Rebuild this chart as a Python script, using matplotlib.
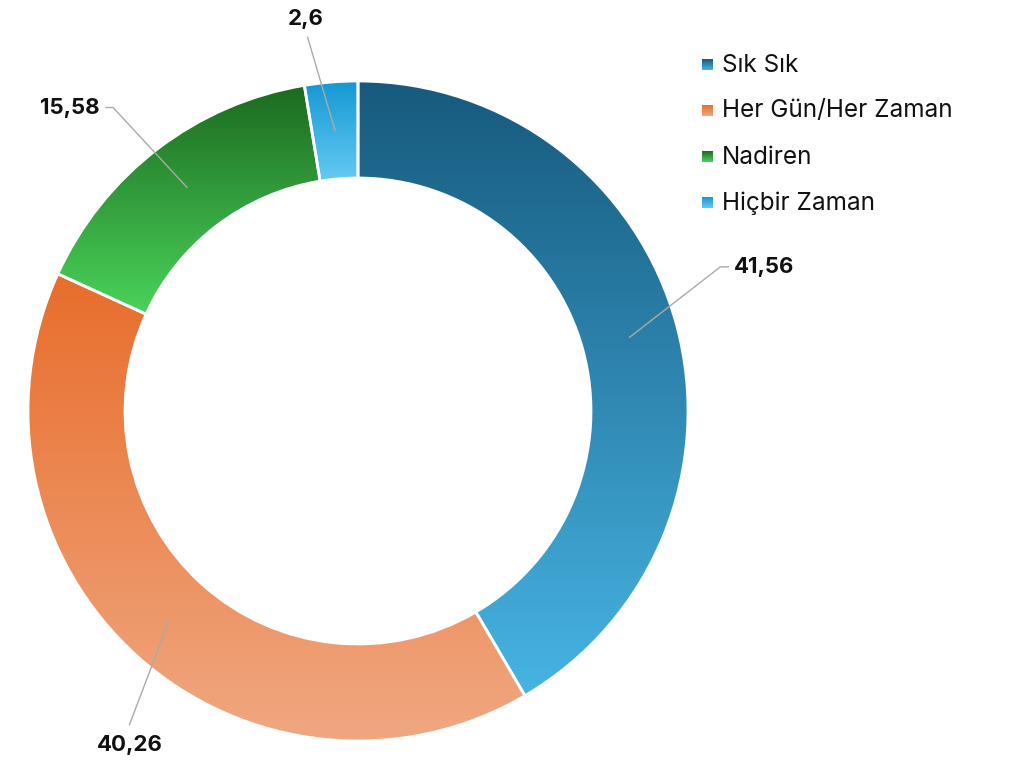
import numpy as np
import matplotlib.pyplot as plt
from matplotlib.patches import Wedge
from matplotlib.colors import LinearSegmentedColormap

plt.rcParams['font.family'] = ['Inter', 'DejaVu Sans']

categories = ['Sık Sık', 'Her Gün/Her Zaman', 'Nadiren', 'Hiçbir Zaman']
values = [41.56, 40.26, 15.58, 2.6]
value_labels = ['41,56', '40,26', '15,58', '2,6']

# gradient colours per slice: (top, bottom)
grad_colors = [('#175a7e', '#47b4e4'),
               ('#e86d2b', '#f0a882'),
               ('#1c6a20', '#4ad35a'),
               ('#1597d3', '#64caf3')]

# label layout: angle shift (deg), end radius, horizontal tail, text align
label_layout = [(6.5, 390, 8, 'left'),
                (6.0, 388, 0, 'below'),
                (1.5, 390, -7, 'right'),
                (3.0, 377, 0, 'above')]

W, H = 1019, 762
cx, cy = 358, H - 411
R_out, R_in = 330, 233

fig = plt.figure(figsize=(W / 100, H / 100), dpi=100)
ax = fig.add_axes([0, 0, 1, 1])
ax.set_xlim(0, W)
ax.set_ylim(0, H)
ax.set_aspect('equal')
ax.axis('off')

grad = np.linspace(0, 1, 256).reshape(-1, 1)

total = sum(values)
start = 90.0
mids = []
for val, (top, bottom) in zip(values, grad_colors):
    sweep = val / total * 360
    t1, t2 = start - sweep, start
    w = Wedge((cx, cy), R_out, t1, t2, width=R_out - R_in,
              facecolor='none', edgecolor='none')
    ax.add_patch(w)
    # last vertex is the CLOSEPOLY dummy (centre), skip it for the bbox
    verts = w.get_path().vertices[:-1]
    x0, y0 = verts.min(axis=0)
    x1, y1 = verts.max(axis=0)
    cmap = LinearSegmentedColormap.from_list('g', [bottom, top])
    im = ax.imshow(grad, cmap=cmap, origin='lower', aspect='auto',
                   extent=(x0, x1, y0, y1), interpolation='bilinear', zorder=1)
    im.set_clip_path(w)
    # white separator
    ax.add_patch(Wedge((cx, cy), R_out, t1, t2, width=R_out - R_in,
                       facecolor='none', edgecolor='white', linewidth=2, zorder=2))
    mids.append((t1 + t2) / 2)
    start = t1

R_mid = (R_out + R_in) / 2
for mid, lab, (dang, r_end, tail, align) in zip(mids, value_labels, label_layout):
    a0 = np.radians(mid)
    a1 = np.radians(mid + dang)
    xs = [cx + R_mid * np.cos(a0), cx + r_end * np.cos(a1)]
    ys = [cy + R_mid * np.sin(a0), cy + r_end * np.sin(a1)]
    if tail:
        xs.append(xs[-1] + tail)
        ys.append(ys[-1])
    ax.plot(xs, ys, color='#aaaaaa', lw=1, zorder=3)
    ex, ey = xs[-1], ys[-1]
    kw = dict(fontsize=16, fontweight='bold', color='#111111', zorder=4)
    if align == 'left':
        ax.text(ex + 5, ey, lab, ha='left', va='center', **kw)
    elif align == 'right':
        ax.text(ex - 6, ey, lab, ha='right', va='center', **kw)
    elif align == 'below':
        ax.text(ex, ey - 10, lab, ha='center', va='top', **kw)
    else:
        ax.text(ex - 2, ey + 8, lab, ha='center', va='bottom', **kw)

# legend
lx, ly0, dy, sq = 702, H - 65, 46, 11
for i, (cat, (top, bottom)) in enumerate(zip(categories, grad_colors)):
    y = ly0 - i * dy
    cmap = LinearSegmentedColormap.from_list('g', [bottom, top])
    ax.imshow(grad, cmap=cmap, origin='lower', aspect='auto',
              extent=(lx, lx + sq, y - sq / 2, y + sq / 2), zorder=3)
    ax.text(lx + 20, y, cat, ha='left', va='center', fontsize=17.5,
            color='#111111')

ax.set_xlim(0, W)
ax.set_ylim(0, H)
fig.savefig('out.png', dpi=100)
